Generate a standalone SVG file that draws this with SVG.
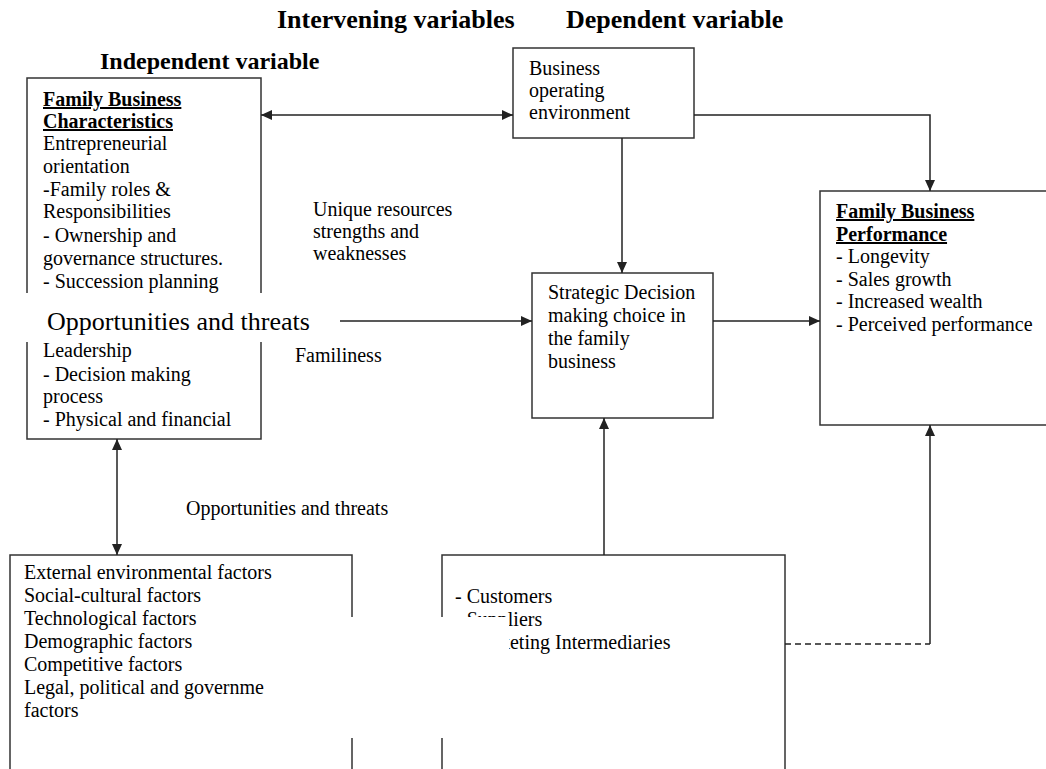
<svg xmlns="http://www.w3.org/2000/svg" width="1046" height="769" viewBox="0 0 1046 769">
<defs>
<style>
.bg{fill:#fff}
.box{fill:#fff;stroke:#333;stroke-width:1.5}
.t{font-family:"Liberation Serif","Times New Roman",serif;font-size:20px;fill:#000}
.h{font-weight:bold;font-size:26px}
.u{font-weight:bold;text-decoration:underline}
.ln{stroke:#222;stroke-width:1.5;fill:none}
.dash{stroke-dasharray:6 4}
.patch{fill:#fff;stroke:none}
</style>
<marker id="arr" viewBox="0 0 11 10" refX="11" refY="5" markerWidth="11" markerHeight="10" markerUnits="userSpaceOnUse" orient="auto-start-reverse">
<path d="M0,0 L11,5 L0,10 z" fill="#222"/>
</marker>
</defs>
<rect class="bg" x="0" y="0" width="1046" height="769"/>

<g id="headings">
<text class="t h" x="277" y="28">Intervening variables</text>
<text class="t h" x="566" y="28">Dependent variable</text>
<text class="t h" x="100" y="69" style="font-size:24px">Independent variable</text>
</g>

<g id="characteristics">
<rect class="box" x="27" y="78" width="234" height="361"/>
<text class="t u" x="43" y="106">Family Business</text>
<text class="t u" x="43" y="128">Characteristics</text>
<text class="t" x="43" y="150">Entrepreneurial</text>
<text class="t" x="43" y="173">orientation</text>
<text class="t" x="43" y="196">-Family roles &amp;</text>
<text class="t" x="43" y="218">Responsibilities</text>
<text class="t" x="43" y="242">- Ownership and</text>
<text class="t" x="43" y="265">governance structures.</text>
<text class="t" x="43" y="288">- Succession planning</text>
<text class="t" x="43" y="357">Leadership</text>
<text class="t" x="43" y="381">- Decision making</text>
<text class="t" x="43" y="403">process</text>
<text class="t" x="43" y="426">- Physical and financial</text>
</g>

<g id="environment">
<rect class="box" x="513" y="48" width="181" height="90"/>
<text class="t" x="529" y="75">Business</text>
<text class="t" x="529" y="97">operating</text>
<text class="t" x="529" y="119">environment</text>
</g>

<g id="strategic">
<rect class="box" x="532" y="273" width="181" height="145"/>
<text class="t" x="548" y="299">Strategic Decision</text>
<text class="t" x="548" y="322">making choice in</text>
<text class="t" x="548" y="345">the family</text>
<text class="t" x="548" y="368">business</text>
</g>

<g id="performance">
<rect class="box" x="820" y="191" width="240" height="234"/>
<text class="t u" x="836" y="218">Family Business</text>
<text class="t u" x="836" y="241">Performance</text>
<text class="t" x="836" y="263">- Longevity</text>
<text class="t" x="836" y="286">- Sales growth</text>
<text class="t" x="836" y="308">- Increased wealth</text>
<text class="t" x="836" y="331">- Perceived performance</text>
</g>

<g id="external">
<rect class="box" x="10" y="555" width="342" height="230"/>
<text class="t" x="24" y="579">External environmental factors</text>
<text class="t" x="24" y="602">Social-cultural factors</text>
<text class="t" x="24" y="625">Technological factors</text>
<text class="t" x="24" y="648">Demographic factors</text>
<text class="t" x="24" y="671">Competitive factors</text>
<text class="t" x="24" y="694">Legal, political and governme</text>
<text class="t" x="24" y="717">factors</text>
</g>

<g id="stakeholders">
<rect class="box" x="442" y="555" width="343" height="230"/>
<text class="t" x="455" y="603">- Customers</text>
<text class="t" x="455" y="626">- Suppliers</text>
<text class="t" x="455" y="649">- Marketing Intermediaries</text>
</g>

<g id="labels">
<text class="t" x="313" y="216">Unique resources</text>
<text class="t" x="313" y="238">strengths and</text>
<text class="t" x="313" y="260">weaknesses</text>
<text class="t" x="295" y="362">Familiness</text>
<text class="t" x="186" y="515">Opportunities and threats</text>
</g>

<g id="connectors">
<path class="ln" d="M261,115 H513" marker-start="url(#arr)" marker-end="url(#arr)"/>
<path class="ln" d="M622,138 V273" marker-end="url(#arr)"/>
<path class="ln" d="M694,115 H930 V191" marker-end="url(#arr)"/>
<path class="ln" d="M340,321 H532" marker-end="url(#arr)"/>
<path class="ln" d="M713,321 H820" marker-end="url(#arr)"/>
<path class="ln" d="M117,439 V555" marker-start="url(#arr)" marker-end="url(#arr)"/>
<path class="ln" d="M604,555 V418" marker-end="url(#arr)"/>
<path class="ln dash" d="M785,644 H930"/>
<path class="ln" d="M930,644 V425" marker-end="url(#arr)"/>
</g>

<g id="overlays">
<rect class="patch" x="20" y="293" width="318" height="49"/>
<rect class="patch" x="268" y="617" width="241" height="121"/>
<text class="t" x="47" y="330" style="font-size:26px">Opportunities and threats</text>
</g>
</svg>
